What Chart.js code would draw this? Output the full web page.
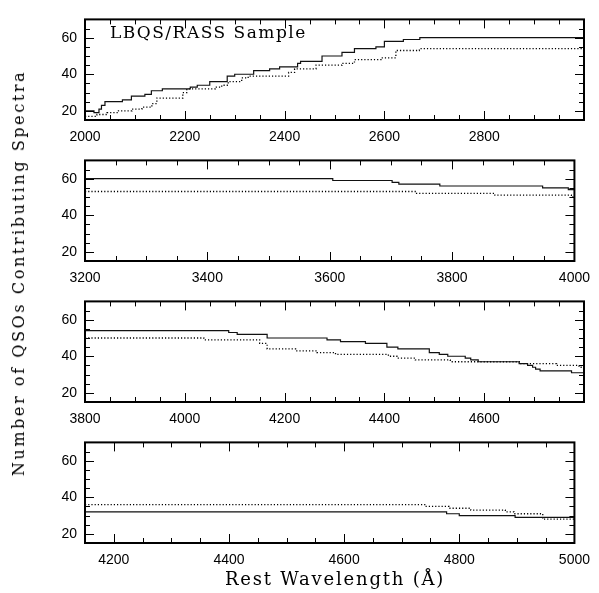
<!DOCTYPE html>
<html>
<head>
<meta charset="utf-8">
<script src="https://cdn.jsdelivr.net/npm/chart.js@4.4.1/dist/chart.umd.min.js"></script>
<style>
  body { margin: 0; background: #fff; }
  #wrap { position: relative; width: 599px; height: 593px; overflow: hidden; }
  #wrap canvas { position: absolute; left: 0; }
  .lbl { position: absolute; font-family: 'DejaVu Serif', serif; color: #000; white-space: nowrap; line-height: 1; }
</style>
</head>
<body>
<div id="wrap">
  <canvas id="p1" width="599" height="145"></canvas>
  <canvas id="p2" width="599" height="145"></canvas>
  <canvas id="p3" width="599" height="145"></canvas>
  <canvas id="p4" width="599" height="145"></canvas>
  <div class="lbl" id="sample" style="left:110px; top:24px; font-size:17px; letter-spacing:1.5px;">LBQS/RASS Sample</div>
  <div class="lbl" id="xtitle" style="left:335px; top:570px; font-size:18px; letter-spacing:1.8px; transform:translateX(-50%);">Rest Wavelength (Å)</div>
  <div class="lbl" id="ytitle" style="left:19px; top:273px; font-size:16px; letter-spacing:2.6px; transform:translate(-50%,-50%) rotate(-90deg);">Number of QSOs Contributing Spectra</div>
</div>
<script>
// y axis shared by all panels
const yMin = 15, yMax = 70;
const yTicks = [20, 40, 60];

// wavelength range and labelled ticks of each panel
const xMin = [2000, 3200, 3800, 4150];
const xMax = [3000, 4000, 4800, 5000];
const p1Ticks = [2000, 2200, 2400, 2600, 2800];
const p2Ticks = [3200, 3400, 3600, 3800, 4000];
const p3Ticks = [3800, 4000, 4200, 4400, 4600];
const p4Ticks = [4200, 4400, 4600, 4800, 5000];

// panel 1: 2000-3000
const p1SolidX = [2000, 2018, 2028, 2033, 2040, 2075, 2093, 2120, 2133, 2155, 2211, 2225, 2250, 2285, 2300, 2338, 2370, 2390, 2426, 2432, 2475, 2515, 2540, 2583, 2600, 2638, 2671, 3000];
const p1SolidY = [20, 19, 21, 23, 25, 26, 28, 29, 31, 32, 33, 34, 36, 39, 40, 42, 43, 44, 46, 47, 50, 52, 54, 55, 58, 59, 60, 60];
const p1DotX = [2000, 2024, 2044, 2067, 2094, 2114, 2134, 2144, 2196, 2204, 2261, 2274, 2287, 2314, 2327, 2408, 2420, 2463, 2515, 2540, 2593, 2623, 2670, 3000];
const p1DotY = [17, 18, 19, 20, 21, 22, 24, 27, 30, 32, 33, 34, 36, 38, 39, 41, 43, 45, 46, 48, 49, 53, 54, 54];

// panel 2: 3200-4000
const p2SolidX = [3200, 3605, 3702, 3713, 3780, 3948, 3990, 4000];
const p2SolidY = [60, 59, 58, 57, 56, 55, 54, 54];
const p2DotX = [3200, 3742, 3870, 3995, 4000];
const p2DotY = [53, 52, 51, 50, 50];

// panel 3: 3800-4800
const p3SolidX = [3800, 4088, 4105, 4165, 4285, 4312, 4362, 4405, 4427, 4490, 4510, 4527, 4562, 4573, 4588, 4670, 4687, 4697, 4703, 4712, 4775, 4800];
const p3SolidY = [54, 53, 52, 50, 49, 48, 47, 45, 44, 42, 41, 40, 39, 38, 37, 36, 35, 34, 33, 32, 31, 31];
const p3DotX = [3800, 4038, 4150, 4165, 4222, 4265, 4302, 4408, 4425, 4462, 4532, 4672, 4745, 4790, 4800];
const p3DotY = [50, 49, 47, 44, 43, 42, 41, 40, 39, 38, 37, 36, 35, 34, 34];

// panel 4: 4150-5000
const p4SolidX = [4150, 4778, 4800, 4897, 5000];
const p4SolidY = [32, 31, 30, 29, 29];
const p4DotX = [4150, 4740, 4782, 4820, 4880, 4895, 4945, 5000];
const p4DotY = [36, 35, 34, 33, 32, 31, 28, 28];

const panelTops = [9, 150, 291, 432];

function toPoints(xs, ys) {
    return xs.map((x, i) => ({ x: x, y: ys[i] }));
}

// frame + inward ticks on all four sides
const framePlugin = {
    id: 'frame',
    afterDraw(chart) {
        const ctx = chart.ctx;
        const a = chart.chartArea;
        const xs = chart.scales.x, ys = chart.scales.y;
        ctx.save();
        ctx.strokeStyle = '#000';
        ctx.lineWidth = 1;
        ctx.beginPath();
        for (let v = Math.ceil(xs.min / 50) * 50; v <= xs.max; v += 50) {
            const px = Math.round(xs.getPixelForValue(v)) + 0.5;
            const len = v % 200 === 0 ? 9 : 5;
            ctx.moveTo(px, a.bottom); ctx.lineTo(px, a.bottom - len);
            ctx.moveTo(px, a.top); ctx.lineTo(px, a.top + len);
        }
        for (let v = 20; v < ys.max; v += 5) {
            const py = Math.round(ys.getPixelForValue(v)) + 0.5;
            const len = v % 20 === 0 ? 9 : 5;
            ctx.moveTo(a.left, py); ctx.lineTo(a.left + len, py);
            ctx.moveTo(a.right, py); ctx.lineTo(a.right - len, py);
        }
        ctx.stroke();
        ctx.lineWidth = 2;
        ctx.strokeRect(a.left, a.top, a.right - a.left, a.bottom - a.top);
        ctx.restore();
    }
};

function makePanel(id, idx, ticks, solidX, solidY, dotX, dotY) {
    const canvas = document.getElementById(id);
    canvas.style.top = (panelTops[idx] - 6) + 'px';
    return new Chart(canvas, {
        type: 'line',
        data: {
            datasets: [
                {
                    data: toPoints(solidX, solidY),
                    borderColor: '#111',
                    borderWidth: 1.2,
                    stepped: true,
                    pointRadius: 0,
                    fill: false
                },
                {
                    data: toPoints(dotX, dotY),
                    borderColor: '#000',
                    borderWidth: 1.3,
                    borderDash: [1.2, 2],
                    stepped: true,
                    pointRadius: 0,
                    fill: false
                }
            ]
        },
        options: {
            responsive: false,
            animation: false,
            devicePixelRatio: 1,
            layout: { padding: { top: 6, right: 15, left: 0, bottom: 0 } },
            plugins: { legend: { display: false }, tooltip: { enabled: false } },
            scales: {
                x: {
                    type: 'linear',
                    min: xMin[idx],
                    max: xMax[idx],
                    grid: { display: false, drawTicks: false },
                    border: { display: false },
                    afterBuildTicks: (s) => { s.ticks = ticks.map(v => ({ value: v })); },
                    afterFit: (s) => { s.height = 28; },
                    ticks: {
                        autoSkip: false,
                        maxRotation: 0,
                        padding: 9,
                        color: '#000',
                        callback: (v) => String(v),
                        font: { family: "'Liberation Sans', Arial, sans-serif", size: 14 }
                    }
                },
                y: {
                    min: yMin,
                    max: yMax,
                    grid: { display: false, drawTicks: false },
                    border: { display: false },
                    afterBuildTicks: (s) => { s.ticks = yTicks.map(v => ({ value: v })); },
                    afterFit: (s) => { s.width = 85; },
                    ticks: {
                        padding: 8,
                        color: '#000',
                        callback: (v) => String(v),
                        font: { family: "'Liberation Sans', Arial, sans-serif", size: 14 }
                    }
                }
            }
        },
        plugins: [framePlugin]
    });
}

makePanel('p1', 0, p1Ticks, p1SolidX, p1SolidY, p1DotX, p1DotY);
makePanel('p2', 1, p2Ticks, p2SolidX, p2SolidY, p2DotX, p2DotY);
makePanel('p3', 2, p3Ticks, p3SolidX, p3SolidY, p3DotX, p3DotY);
makePanel('p4', 3, p4Ticks, p4SolidX, p4SolidY, p4DotX, p4DotY);
</script>
</body>
</html>
